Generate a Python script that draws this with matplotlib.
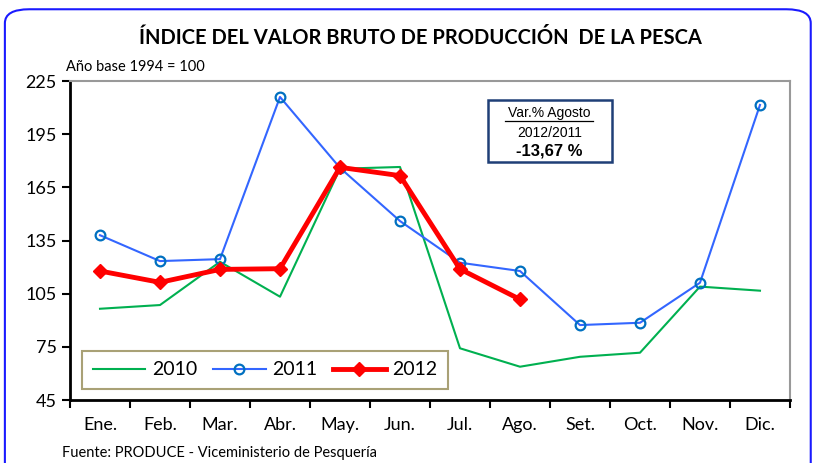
import numpy as np
import matplotlib.pyplot as plt
from matplotlib.patches import FancyBboxPatch

meses = ["Ene.", "Feb.", "Mar.", "Abr.", "May.", "Jun.",
         "Jul.", "Ago.", "Set.", "Oct.", "Nov.", "Dic."]

v2010 = [96.5, 98.6, 123, 103.3, 175.5, 176.5, 74.2, 63.8, 69.4, 71.7, 109, 106.7]
v2011 = [138, 123.4, 124.5, 216, 176, 146, 122.5, 117.8, 87.3, 88.6, 111.2, 211.5]
v2012 = [117.8, 111.4, 118.7, 119.1, 176.3, 171.6, 118.9, 101.8]

yticks = [45, 75, 105, 135, 165, 195, 225]

plt.rcParams['font.family'] = ['Lato', 'DejaVu Sans']

fig = plt.figure(figsize=(8.14, 4.63), dpi=100)

# rounded blue frame round the whole chart
frame = FancyBboxPatch((0.006, -0.05), 0.99, 1.03, transform=fig.transFigure,
                       boxstyle="round,pad=0,rounding_size=0.03",
                       facecolor="white", edgecolor="#1a1aff", linewidth=1.5,
                       zorder=-10)
fig.patches.append(frame)

ax = fig.add_axes([0.086, 0.136, 0.8845, 0.689])
ax.set_facecolor("none")

x = np.arange(len(meses))
ax.plot(x, v2010, color="#00B050", lw=1.5, label="2010")
ax.plot(x, v2011, color="#3366FF", lw=1.5, marker="o", markersize=7,
        markerfacecolor="none", markeredgecolor="#0070C0", markeredgewidth=1.6,
        label="2011")
ax.plot(x[:len(v2012)], v2012, color="#FF0000", lw=3.5, marker="D", markersize=7,
        label="2012")

ax.set_xlim(-0.5, 11.5)
ax.set_ylim(45, 225)
ax.set_yticks(yticks)
ax.tick_params(axis="y", labelsize=13, length=6, width=1.5, direction="out")

ax.set_xticks(np.arange(-0.5, 12, 1))
ax.set_xticklabels([])
ax.set_xticks(x, minor=True)
ax.set_xticklabels(meses, minor=True)
ax.tick_params(axis="x", which="major", length=6, width=1.5, direction="out")
ax.tick_params(axis="x", which="minor", length=0, labelsize=13, pad=12)

for s in ["left", "bottom"]:
    ax.spines[s].set_color("black")
    ax.spines[s].set_linewidth(2)
for s in ["top", "right"]:
    ax.spines[s].set_color("#999999")
    ax.spines[s].set_linewidth(1.5)

leg = ax.legend(loc="lower left", bbox_to_anchor=(0.017, 0.034), ncol=3,
                fontsize=14, frameon=True, fancybox=False, handlelength=2.7,
                handletextpad=0.35, columnspacing=0.8, borderpad=0.55,
                borderaxespad=0)
leg.get_frame().set_edgecolor("#948A54")
leg.get_frame().set_linewidth(1.5)

fig.text(0.516, 0.918, "ÍNDICE DEL VALOR BRUTO DE PRODUCCIÓN  DE LA PESCA",
         ha="center", va="center", fontsize=14.5, fontweight="bold")
fig.text(0.081, 0.855, "Año base 1994 = 100", ha="left", va="center", fontsize=10.5)
fig.text(0.076, 0.022, "Fuente: PRODUCE - Viceministerio de Pesquería",
         ha="left", va="center", fontsize=10.5)

# annotation box
box = FancyBboxPatch((0.599, 0.651), 0.153, 0.133, transform=fig.transFigure,
                     boxstyle="square,pad=0", facecolor="white",
                     edgecolor="#1F3F77", linewidth=1.8, zorder=5)
fig.patches.append(box)
fig.text(0.675, 0.756, "Var.% Agosto", ha="center", va="center", fontsize=10,
         family="Liberation Sans", zorder=6)
fig.lines.append(plt.Line2D([0.621, 0.729], [0.738, 0.738],
                            transform=fig.transFigure, color="black", lw=0.9, zorder=6))
fig.text(0.675, 0.712, "2012/2011", ha="center", va="center", fontsize=10,
         family="Liberation Sans", zorder=6)
fig.text(0.675, 0.673, "-13,67 %", ha="center", va="center", fontsize=12,
         fontweight="bold", family="Liberation Sans", zorder=6)

plt.savefig("out.png", dpi=100)
